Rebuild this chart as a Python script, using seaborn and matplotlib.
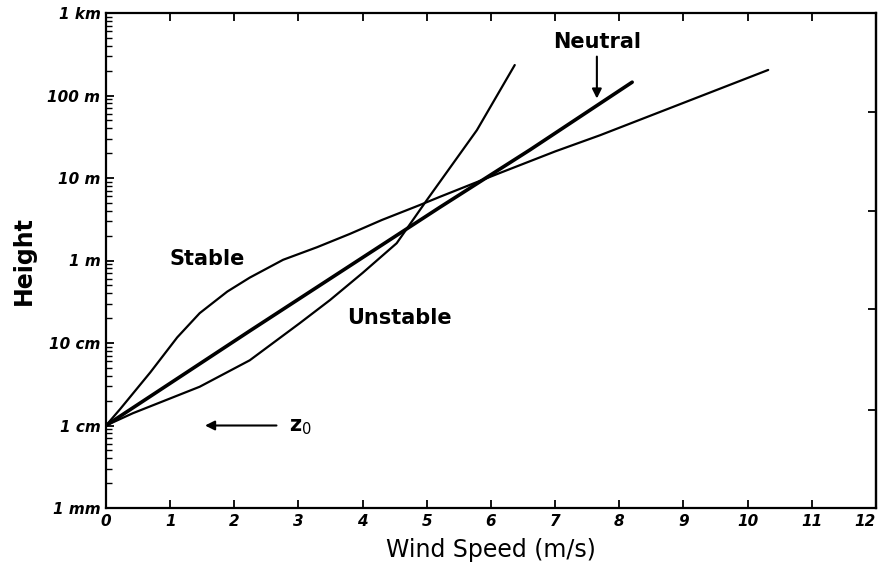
import matplotlib
matplotlib.use("Agg")
import matplotlib.pyplot as plt
import seaborn as sns
import pandas as pd

# ---- data ----
neutral_speed = [0.0, 2.24, 5.2, 6.61, 8.2]
neutral_height = [0.01, 0.14, 4.4, 22.0, 145.0]

stable_speed = [0.0, 0.22, 0.69, 1.11, 1.46, 1.89, 2.24, 2.76, 3.29, 3.80, 4.30,
                4.89, 5.20, 6.10, 7.00, 7.70, 8.63, 10.32]
stable_height = [0.01, 0.0158, 0.044, 0.117, 0.23, 0.42, 0.62, 1.02, 1.45, 2.1,
                 3.1, 4.7, 5.9, 11.2, 21.0, 33.0, 63.0, 204.0]

unstable_speed = [0.0, 0.42, 1.46, 2.24, 3.02, 3.49, 4.00, 4.53, 5.00, 5.78, 6.37]
unstable_height = [0.01, 0.0141, 0.0295, 0.0617, 0.174, 0.331, 0.708, 1.62, 5.4, 38.0, 234.0]

x_ticks = list(range(0, 13))
y_tick_values = [0.001, 0.01, 0.1, 1, 10, 100, 1000]
y_tick_labels = ["1 mm", "1 cm", "10 cm", "1 m", "10 m", "100 m", "1 km"]

sns.set_theme(style="ticks")
plt.rcParams['font.family'] = ['DejaVu Sans']
plt.rcParams['text.color'] = 'black'

fig = plt.figure(figsize=(8.79, 5.69), dpi=100)
ax = fig.add_axes([106 / 879, 1 - 508 / 569, 770 / 879, 495 / 569])

df_s = pd.DataFrame({"u": stable_speed, "z": stable_height})
df_u = pd.DataFrame({"u": unstable_speed, "z": unstable_height})
df_n = pd.DataFrame({"u": neutral_speed, "z": neutral_height})

sns.lineplot(data=df_s, x="u", y="z", ax=ax, color="black", lw=1.6, sort=False, estimator=None)
sns.lineplot(data=df_u, x="u", y="z", ax=ax, color="black", lw=1.6, sort=False, estimator=None)
sns.lineplot(data=df_n, x="u", y="z", ax=ax, color="black", lw=2.6, sort=False, estimator=None)

ax.set_yscale("log")
ax.set_xlim(0, 12)
ax.set_ylim(0.001, 1000)
ax.set_xticks(x_ticks)
xl = ax.set_xticklabels([str(t) for t in x_ticks], fontstyle="italic", fontweight="bold",
                        fontsize=11, color="black")
xl[-1].set_horizontalalignment("right")
ax.set_yticks(y_tick_values)
ax.set_yticklabels(y_tick_labels, fontstyle="italic", fontweight="bold", fontsize=11, color="black")

for s in ax.spines.values():
    s.set_color("black")
    s.set_linewidth(1.6)

ax.tick_params(axis="both", which="major", direction="in", length=6, width=1.3,
               colors="black", top=True, right=False, pad=4)
ax.tick_params(axis="y", which="minor", direction="in", length=4, width=1.0,
               left=True, right=False, colors="black")

sec = ax.secondary_yaxis("right")
sec.set_yticks([63, 4, 0.26, 0.0155])
sec.set_yticklabels([])
sec.tick_params(direction="in", length=6, width=1.3, which="major", colors="black")
sec.tick_params(which="minor", length=0)
sec.spines["right"].set_linewidth(1.6)

ax.set_xlabel("Wind Speed (m/s)", fontsize=17, color="black", labelpad=7)
ax.set_ylabel("Height", fontsize=17, color="black", fontweight="bold", labelpad=8)

ax.text(1.57, 1.04, "Stable", fontsize=15, fontweight="bold", ha="center", va="center", color="black")
ax.text(4.57, 0.2, "Unstable", fontsize=15, fontweight="bold", ha="center", va="center", color="black")
ax.text(7.65, 450, "Neutral", fontsize=15, fontweight="bold", ha="center", va="center", color="black")
ax.annotate("", xy=(7.65, 85), xytext=(7.65, 320),
            arrowprops=dict(arrowstyle="-|>", color="black", lw=1.5, mutation_scale=14))
ax.annotate("", xy=(1.50, 0.01), xytext=(2.70, 0.01),
            arrowprops=dict(arrowstyle="-|>", color="black", lw=1.5, mutation_scale=14))
ax.text(2.85, 0.0095, "z$_0$", fontsize=15, fontweight="bold", ha="left", va="center", color="black")

fig.savefig("out.png", dpi=100)
